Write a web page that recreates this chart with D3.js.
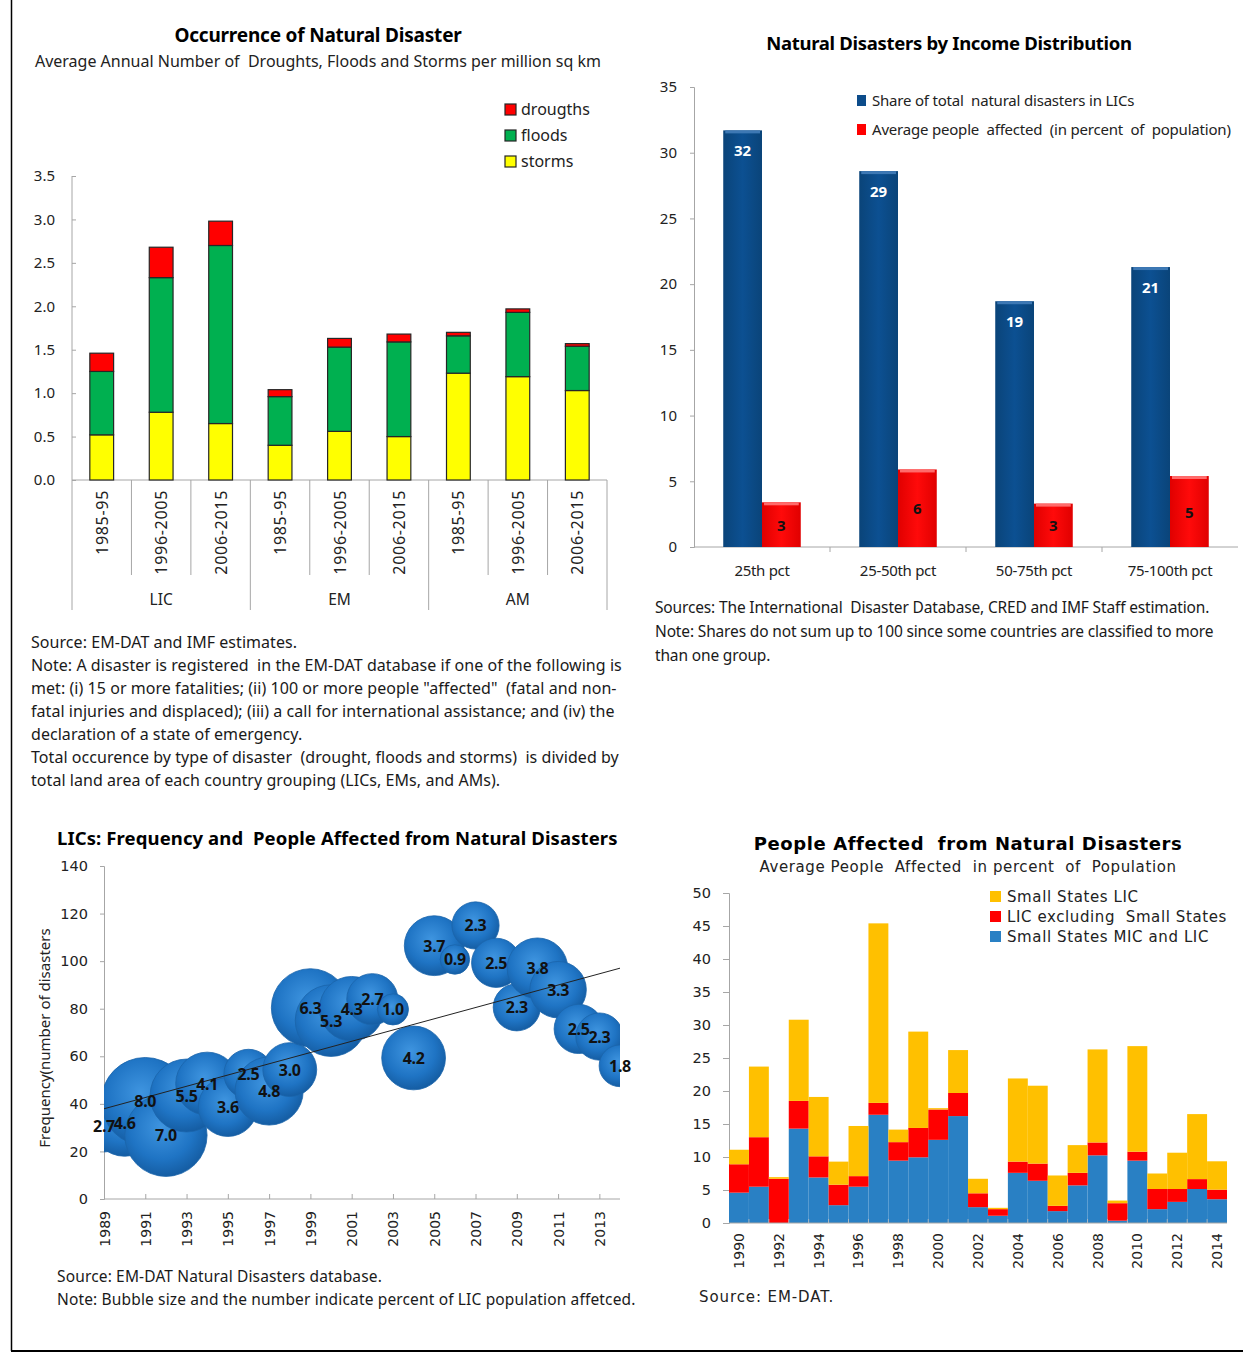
<!DOCTYPE html>
<html>
<head>
<meta charset="utf-8">
<script src="https://cdn.jsdelivr.net/npm/d3@7"></script>
<style>
  body { margin: 0; background: #fff; }
  svg { display: block; }
  text { white-space: pre; }
  .sans { font-family: "Noto Sans", "Open Sans", sans-serif; }
  .dv { font-family: "DejaVu Sans", Verdana, sans-serif; }
  .axis path, .axis line { stroke: #a6a6a6; }
  .axis text { fill: #222; }
</style>
</head>
<body>
<div id="chart"></div>
<script>
// ---- Occurrence of Natural Disaster (top left)
const OCC_PERIODS = ["1985-95", "1996-2005", "2006-2015", "1985-95", "1996-2005", "2006-2015", "1985-95", "1996-2005", "2006-2015"];
const OCC_GROUPS = ["LIC", "EM", "AM"];
const OCC_STORMS = [0.52, 0.78, 0.65, 0.40, 0.56, 0.50, 1.23, 1.19, 1.03];
const OCC_FLOODS = [0.73, 1.55, 2.05, 0.56, 0.97, 1.09, 0.43, 0.74, 0.51];
const OCC_DROUGHTS = [0.21, 0.35, 0.28, 0.08, 0.10, 0.09, 0.04, 0.04, 0.03];
const OCC_TICKS = [0, 0.5, 1, 1.5, 2, 2.5, 3, 3.5];

// ---- Natural Disasters by Income Distribution (top right)
const INC_CATS = ["25th pct", "25-50th pct", "50-75th pct", "75-100th pct"];
const INC_SHARE = [31.7, 28.6, 18.7, 21.3];
const INC_AFFECTED = [3.4, 5.9, 3.3, 5.4];
const INC_TICKS = [0, 5, 10, 15, 20, 25, 30, 35];

// ---- LICs: Frequency and People Affected (bottom left)
const LIC_YEARS = [1989, 1990, 1991, 1992, 1993, 1994, 1995, 1996, 1997, 1998, 1999, 2000, 2001,
                   2002, 2003, 2004, 2005, 2006, 2007, 2008, 2009, 2010, 2011, 2012, 2013, 2014];
const LIC_FREQ = [30.5, 32, 41, 26.8, 43.5, 48.5, 38.7, 52.6, 45.4, 54.4, 80.4, 75, 80,
                  84, 79.7, 59.3, 106.5, 100.7, 115, 99.3, 80.6, 97, 88, 71.5, 68.3, 56];
const LIC_AFFECTED = [2.7, 4.6, 8.0, 7.0, 5.5, 4.1, 3.6, 2.5, 4.8, 3.0, 6.3, 5.3, 4.3,
                      2.7, 1.0, 4.2, 3.7, 0.9, 2.3, 2.5, 2.3, 3.8, 3.3, 2.5, 2.3, 1.8];
const LIC_XTICKS = [1989, 1991, 1993, 1995, 1997, 1999, 2001, 2003, 2005, 2007, 2009, 2011, 2013];
const LIC_YTICKS = [0, 20, 40, 60, 80, 100, 120, 140];

// ---- People Affected from Natural Disasters (bottom right)
const PA_YEARS = [1990, 1991, 1992, 1993, 1994, 1995, 1996, 1997, 1998, 1999, 2000, 2001, 2002,
                  2003, 2004, 2005, 2006, 2007, 2008, 2009, 2010, 2011, 2012, 2013, 2014];
const PA_SS_MIC_LIC = [4.6, 5.5, 0, 14.3, 6.9, 2.7, 5.5, 16.4, 9.45, 9.95, 12.6, 16.2, 2.4,
                       1.1, 7.6, 6.4, 1.8, 5.7, 10.25, 0.35, 9.45, 2.1, 3.2, 5.15, 3.6];
const PA_LIC_EX_SS = [4.3, 7.5, 6.7, 4.2, 3.2, 3.1, 1.6, 1.8, 2.8, 4.45, 4.6, 3.5, 2.1,
                      1.0, 1.7, 2.6, 0.8, 1.9, 1.95, 2.65, 1.35, 3.05, 1.95, 1.5, 1.45];
const PA_SS_LIC = [2.2, 10.7, 0.25, 12.3, 9.0, 3.5, 7.6, 27.2, 1.9, 14.6, 0.2, 6.5, 2.2,
                   0.2, 12.6, 11.8, 4.6, 4.2, 14.1, 0.4, 16.0, 2.35, 5.5, 9.85, 4.3];
const PA_YTICKS = [0, 5, 10, 15, 20, 25, 30, 35, 40, 45, 50];


const W = 1243, H = 1353;
let svg = d3.select('#chart').append('svg')
    .attr('width', W)
    .attr('height', H);

// page frame
svg.append('line').attr('x1', 11.5).attr('x2', 11.5).attr('y1', 0).attr('y2', 1351)
    .attr('stroke', '#000').attr('stroke-width', 1.5);
svg.append('line').attr('x1', 11).attr('x2', W).attr('y1', 1351).attr('y2', 1351)
    .attr('stroke', '#000').attr('stroke-width', 2);

function addLines(g, lines, x, y0, dy, cls, size, spacing) {
    g.selectAll(null)
        .data(lines)
        .enter()
        .append('text')
        .attr('class', cls)
        .attr('x', x)
        .attr('y', (d, i) => y0 + i * dy)
        .attr('font-size', size)
        .attr('letter-spacing', spacing)
        .attr('fill', '#1a1a1a')
        .text(d => d);
}

/* ================= Panel A ================= */
{
    let g = svg.append('g');
    g.append('text').attr('class', 'sans').attr('x', 318).attr('y', 42)
        .attr('text-anchor', 'middle').attr('font-size', 19).attr('font-weight', 'bold')
        .attr('letter-spacing', -0.2)
        .text('Occurrence of Natural Disaster');
    g.append('text').attr('class', 'sans').attr('x', 318).attr('y', 67)
        .attr('text-anchor', 'middle').attr('font-size', 16).attr('fill', '#222')
        .text('Average Annual Number of  Droughts, Floods and Storms per million sq km');

    let rows = OCC_PERIODS.map((p, i) => ({
        idx: i, storms: OCC_STORMS[i], floods: OCC_FLOODS[i], droughts: OCC_DROUGHTS[i]
    }));
    let keys = ['storms', 'floods', 'droughts'];
    let colors = { storms: '#ffff00', floods: '#00b050', droughts: '#ff0000' };
    let series = d3.stack().keys(keys)(rows);

    let x = d3.scaleBand().domain(d3.range(OCC_PERIODS.length)).range([72, 607])
        .paddingInner(0.6).paddingOuter(0.3);
    let y = d3.scaleLinear().domain([0, 3.5]).range([480, 176]);

    let yAxis = g.append('g').attr('class', 'axis sans')
        .attr('transform', 'translate(72,0)')
        .call(d3.axisLeft(y).tickValues(OCC_TICKS).tickFormat(d3.format('.1f')).tickSize(-4).tickPadding(17));
    yAxis.selectAll('text').attr('font-size', 15);
    yAxis.select('.domain').attr('d', 'M0,176V610');

    g.append('line').attr('x1', 72).attr('x2', 607).attr('y1', 480).attr('y2', 480)
        .attr('stroke', '#a6a6a6');

    // separators between categories
    let step = x.step();
    g.selectAll('.sep')
        .data(d3.range(1, OCC_PERIODS.length + 1))
        .enter()
        .append('line')
        .attr('x1', d => 72 + d * step).attr('x2', d => 72 + d * step)
        .attr('y1', 480)
        .attr('y2', d => d % 3 === 0 ? 610 : 575)
        .attr('stroke', '#a6a6a6');

    series.forEach(s => {
        g.selectAll(null)
            .data(s)
            .enter()
            .append('rect')
            .attr('x', d => x(d.data.idx))
            .attr('width', x.bandwidth())
            .attr('y', d => y(d[1]))
            .attr('height', d => y(d[0]) - y(d[1]))
            .attr('fill', colors[s.key])
            .attr('stroke', '#262626')
            .attr('stroke-width', 1.2);
    });

    g.selectAll('.cat')
        .data(OCC_PERIODS)
        .enter()
        .append('text')
        .attr('class', 'sans')
        .attr('font-size', 16)
        .attr('letter-spacing', 0.7)
        .attr('fill', '#222')
        .attr('text-anchor', 'end')
        .attr('transform', (d, i) => `translate(${x(i) + x.bandwidth() / 2 + 6},490) rotate(-90)`)
        .text(d => d);

    g.selectAll('.grp')
        .data(OCC_GROUPS)
        .enter()
        .append('text')
        .attr('class', 'sans')
        .attr('font-size', 15.5)
        .attr('fill', '#222')
        .attr('text-anchor', 'middle')
        .attr('x', (d, i) => 72 + (i * 3 + 1.5) * step)
        .attr('y', 605)
        .text(d => d);

    let legend = [['drougths', colors.droughts], ['floods', colors.floods], ['storms', colors.storms]];
    legend.forEach((l, i) => {
        g.append('rect').attr('x', 505).attr('y', 104 + i * 26).attr('width', 11).attr('height', 11)
            .attr('fill', l[1]).attr('stroke', '#262626').attr('stroke-width', 1.2);
        g.append('text').attr('class', 'sans').attr('x', 521).attr('y', 115 + i * 26)
            .attr('font-size', 16).attr('fill', '#222').text(l[0]);
    });

    addLines(g, [
        'Source: EM-DAT and IMF estimates.',
        'Note: A disaster is registered  in the EM-DAT database if one of the following is',
        'met: (i) 15 or more fatalities; (ii) 100 or more people "affected"  (fatal and non-',
        'fatal injuries and displaced); (iii) a call for international assistance; and (iv) the',
        'declaration of a state of emergency.',
        'Total occurence by type of disaster  (drought, floods and storms)  is divided by',
        'total land area of each country grouping (LICs, EMs, and AMs).'
    ], 31, 648, 23, 'sans', 16, 0.05);
}

/* ================= Panel B ================= */
{
    let g = svg.append('g');
    g.append('text').attr('class', 'sans').attr('x', 949).attr('y', 50)
        .attr('text-anchor', 'middle').attr('font-size', 18.5).attr('font-weight', 'bold')
        .attr('letter-spacing', -0.3)
        .text('Natural Disasters by Income Distribution');

    let x = d3.scaleBand().domain(INC_CATS).range([694, 1238]).paddingInner(0.43).paddingOuter(0.215);
    let xs = d3.scaleBand().domain(['share', 'affected']).range([0, x.bandwidth()]);
    let y = d3.scaleLinear().domain([0, 35]).range([547, 87]);

    let yAxis = g.append('g').attr('class', 'axis sans')
        .attr('transform', 'translate(694,0)')
        .call(d3.axisLeft(y).tickValues(INC_TICKS).tickSize(4).tickPadding(13));
    yAxis.selectAll('text').attr('font-size', 15);

    let xAxis = g.append('g').attr('class', 'axis sans')
        .attr('transform', 'translate(0,547)')
        .call(d3.axisBottom(x).tickSize(0).tickPadding(18));
    xAxis.selectAll('text').attr('font-size', 15).attr('letter-spacing', -0.3);
    xAxis.select('.domain').attr('d', 'M694,0H1238');
    g.selectAll('.btick')
        .data(INC_CATS.slice(1))
        .enter()
        .append('line')
        .attr('x1', d => x(d) - x.step() * x.paddingInner() / 2)
        .attr('x2', d => x(d) - x.step() * x.paddingInner() / 2)
        .attr('y1', 547).attr('y2', 552)
        .attr('stroke', '#a6a6a6');

    let defs = svg.append('defs');
    let gb = defs.append('linearGradient').attr('id', 'blueBar').attr('x1', 0).attr('x2', 1).attr('y1', 0).attr('y2', 0);
    gb.append('stop').attr('offset', '0%').attr('stop-color', '#0a4479');
    gb.append('stop').attr('offset', '50%').attr('stop-color', '#0c5092');
    gb.append('stop').attr('offset', '100%').attr('stop-color', '#0a4479');
    let gr = defs.append('linearGradient').attr('id', 'redBar').attr('x1', 0).attr('x2', 1).attr('y1', 0).attr('y2', 0);
    gr.append('stop').attr('offset', '0%').attr('stop-color', '#e00000');
    gr.append('stop').attr('offset', '50%').attr('stop-color', '#ff0a0a');
    gr.append('stop').attr('offset', '100%').attr('stop-color', '#e00000');

    let rows = INC_CATS.map((c, i) => ({ cat: c, share: INC_SHARE[i], affected: INC_AFFECTED[i] }));

    g.selectAll('.bshare')
        .data(rows)
        .enter()
        .append('rect')
        .attr('x', d => x(d.cat) + xs('share'))
        .attr('width', xs.bandwidth())
        .attr('y', d => y(d.share))
        .attr('height', d => 547 - y(d.share))
        .attr('fill', 'url(#blueBar)');
    g.selectAll('.baff')
        .data(rows)
        .enter()
        .append('rect')
        .attr('x', d => x(d.cat) + xs('affected'))
        .attr('width', xs.bandwidth())
        .attr('y', d => y(d.affected))
        .attr('height', d => 547 - y(d.affected))
        .attr('fill', 'url(#redBar)');
    // light top bevel
    g.selectAll('.bevel')
        .data(rows.flatMap(d => [{ cat: d.cat, k: 'share', v: d.share }, { cat: d.cat, k: 'affected', v: d.affected }]))
        .enter()
        .append('rect')
        .attr('x', d => x(d.cat) + xs(d.k) + 2)
        .attr('width', xs.bandwidth() - 4)
        .attr('y', d => y(d.v))
        .attr('height', 3)
        .attr('fill', d => d.k === 'share' ? '#3d78b4' : '#ff6b6b');

    g.selectAll('.lshare')
        .data(rows)
        .enter()
        .append('text')
        .attr('class', 'sans')
        .attr('x', d => x(d.cat) + xs('share') + xs.bandwidth() / 2)
        .attr('y', d => y(d.share) + 26)
        .attr('text-anchor', 'middle')
        .attr('font-size', 15).attr('font-weight', 'bold').attr('fill', '#fff')
        .text(d => d3.format('.0f')(d.share));
    g.selectAll('.laff')
        .data(rows)
        .enter()
        .append('text')
        .attr('class', 'sans')
        .attr('x', d => x(d.cat) + xs('affected') + xs.bandwidth() / 2)
        .attr('y', d => (y(d.affected) + 547) / 2 + 6)
        .attr('text-anchor', 'middle')
        .attr('font-size', 15).attr('font-weight', 'bold').attr('fill', '#111')
        .text(d => d3.format('.0f')(d.affected));

    let legend = [['Share of total  natural disasters in LICs', '#0c4c8a'],
                  ['Average people  affected  (in percent  of  population)', '#ff0000']];
    legend.forEach((l, i) => {
        g.append('rect').attr('x', 857).attr('y', 95 + i * 29).attr('width', 9).attr('height', 11)
            .attr('fill', l[1]);
        g.append('text').attr('class', 'sans').attr('x', 872).attr('y', 106 + i * 29)
            .attr('font-size', 15).attr('letter-spacing', -0.2).attr('fill', '#222').text(l[0]);
    });

    addLines(g, [
        'Sources: The International  Disaster Database, CRED and IMF Staff estimation.',
        'Note: Shares do not sum up to 100 since some countries are classified to more',
        'than one group.'
    ], 655, 613, 24, 'sans', 15.5, -0.15);
}

/* ================= Panel C ================= */
{
    let g = svg.append('g');
    g.append('text').attr('class', 'sans').attr('x', 57).attr('y', 845)
        .attr('font-size', 18.5).attr('font-weight', 'bold').attr('letter-spacing', 0.1)
        .text('LICs: Frequency and  People Affected from Natural Disasters');

    let x = d3.scaleLinear().domain([1989, 2014]).range([104, 620]);
    let y = d3.scaleLinear().domain([0, 140]).range([1199, 866]);
    let r = d3.scaleSqrt().domain([0, 8]).range([0, 44]);

    let yAxis = g.append('g').attr('class', 'axis dv')
        .attr('transform', 'translate(104,0)')
        .call(d3.axisLeft(y).tickValues(LIC_YTICKS).tickSize(4).tickPadding(12));
    yAxis.selectAll('text').attr('font-size', 14.5);

    let xAxis = g.append('g').attr('class', 'axis dv')
        .attr('transform', 'translate(0,1199)')
        .call(d3.axisBottom(x).tickValues(LIC_XTICKS).tickFormat(d3.format('d')).tickSize(-5).tickPadding(0));
    xAxis.select('.domain').attr('d', 'M104,0H620');
    xAxis.selectAll('text')
        .attr('font-size', 14)
        .attr('text-anchor', 'end')
        .attr('dy', null)
        .attr('transform', 'translate(5,12) rotate(-90)');

    g.append('text').attr('class', 'sans')
        .attr('transform', 'translate(50,1038) rotate(-90)')
        .attr('text-anchor', 'middle').attr('font-size', 15).attr('fill', '#222')
        .text('Frequency(number of disasters');

    let defs = svg.append('defs');
    defs.append('clipPath').attr('id', 'bubClip')
        .append('rect').attr('x', 104).attr('y', 860).attr('width', 516).attr('height', 339);
    let rg = defs.append('radialGradient').attr('id', 'bub')
        .attr('cx', '45%').attr('cy', '40%').attr('r', '60%');
    rg.append('stop').attr('offset', '0%').attr('stop-color', '#3f95e0');
    rg.append('stop').attr('offset', '65%').attr('stop-color', '#1f74c4');
    rg.append('stop').attr('offset', '100%').attr('stop-color', '#155da3');

    let pts = LIC_YEARS.map((yr, i) => ({ yr: yr, f: LIC_FREQ[i], a: LIC_AFFECTED[i] }));

    g.append('g').attr('clip-path', 'url(#bubClip)')
        .selectAll('circle')
        .data(pts)
        .enter()
        .append('circle')
        .attr('cx', d => x(d.yr))
        .attr('cy', d => y(d.f))
        .attr('r', d => r(d.a))
        .attr('fill', 'url(#bub)')
        .attr('stroke', '#1a64ab')
        .attr('stroke-width', 0.8);

    // linear trend fitted to the frequency series
    let mx = d3.mean(LIC_YEARS), my = d3.mean(LIC_FREQ);
    let slope = d3.sum(LIC_YEARS, (t, i) => (t - mx) * (LIC_FREQ[i] - my)) /
                d3.sum(LIC_YEARS, t => (t - mx) * (t - mx));
    let fit = t => my + slope * (t - mx);
    let ends = [1989, 2014];
    g.append('line')
        .attr('x1', x(ends[0])).attr('y1', y(fit(ends[0])))
        .attr('x2', x(ends[1])).attr('y2', y(fit(ends[1])))
        .attr('stroke', '#222').attr('stroke-width', 1);

    g.selectAll('.blab')
        .data(pts)
        .enter()
        .append('text')
        .attr('class', 'sans')
        .attr('x', d => x(d.yr))
        .attr('y', d => y(d.f) + 6)
        .attr('text-anchor', 'middle')
        .attr('font-size', 16).attr('font-weight', 'bold').attr('letter-spacing', -0.3).attr('fill', '#111')
        .text(d => d3.format('.1f')(d.a));

    addLines(g, [
        'Source: EM-DAT Natural Disasters database.',
        'Note: Bubble size and the number indicate percent of LIC population affetced.'
    ], 57, 1282, 23, 'sans', 15.5, 0.15);
}

/* ================= Panel D ================= */
{
    let g = svg.append('g');
    g.append('text').attr('class', 'dv').attr('x', 968).attr('y', 850)
        .attr('text-anchor', 'middle').attr('font-size', 18).attr('font-weight', 'bold')
        .attr('letter-spacing', 0.6)
        .text('People Affected  from Natural Disasters');
    g.append('text').attr('class', 'dv').attr('x', 968).attr('y', 872)
        .attr('text-anchor', 'middle').attr('font-size', 15).attr('fill', '#222')
        .attr('letter-spacing', 0.6)
        .text('Average People  Affected  in percent  of  Population');

    let keys = ['mic', 'licx', 'sslic'];
    let colors = { mic: '#2980c4', licx: '#ff0000', sslic: '#ffc000' };
    let rows = PA_YEARS.map((yr, i) => ({ yr: yr, mic: PA_SS_MIC_LIC[i], licx: PA_LIC_EX_SS[i], sslic: PA_SS_LIC[i] }));
    let series = d3.stack().keys(keys)(rows);

    let x = d3.scaleBand().domain(PA_YEARS).range([729, 1227]).padding(0);
    let y = d3.scaleLinear().domain([0, 50]).range([1223, 893]);

    let yAxis = g.append('g').attr('class', 'axis dv')
        .attr('transform', 'translate(729,0)')
        .call(d3.axisLeft(y).tickValues(PA_YTICKS).tickSize(6).tickPadding(12));
    yAxis.selectAll('text').attr('font-size', 14.5);

    series.forEach(s => {
        g.selectAll(null)
            .data(s)
            .enter()
            .append('rect')
            .attr('x', d => x(d.data.yr))
            .attr('width', x.bandwidth())
            .attr('y', d => y(d[1]))
            .attr('height', d => y(d[0]) - y(d[1]))
            .attr('fill', colors[s.key]);
    });

    let xAxis = g.append('g').attr('class', 'axis dv')
        .attr('transform', 'translate(0,1223)')
        .call(d3.axisBottom(x).tickValues(PA_YEARS.filter((d, i) => i % 2 === 0)).tickSize(0).tickPadding(0));
    xAxis.select('.domain').attr('d', 'M729,0H1227');
    xAxis.selectAll('text')
        .attr('font-size', 14)
        .attr('text-anchor', 'end')
        .attr('dy', null)
        .attr('transform', 'translate(5,10) rotate(-90)');
    g.selectAll('.ptick')
        .data(d3.range(1, PA_YEARS.length))
        .enter()
        .append('line')
        .attr('x1', d => 729 + d * x.step()).attr('x2', d => 729 + d * x.step())
        .attr('y1', 1223).attr('y2', 1219)
        .attr('stroke', '#bfbfbf').attr('stroke-opacity', 0.8);

    let legend = [['Small States LIC', colors.sslic], ['LIC excluding  Small States', colors.licx],
                  ['Small States MIC and LIC', colors.mic]];
    legend.forEach((l, i) => {
        g.append('rect').attr('x', 990).attr('y', 891 + i * 20).attr('width', 11).attr('height', 11)
            .attr('fill', l[1]);
        g.append('text').attr('class', 'dv').attr('x', 1007).attr('y', 902 + i * 20)
            .attr('font-size', 15).attr('letter-spacing', 0.6).attr('fill', '#222').text(l[0]);
    });

    g.append('text').attr('class', 'dv').attr('x', 699).attr('y', 1302)
        .attr('font-size', 15).attr('letter-spacing', 0.9).attr('fill', '#222').text('Source: EM-DAT.');
}
</script>
</body>
</html>
